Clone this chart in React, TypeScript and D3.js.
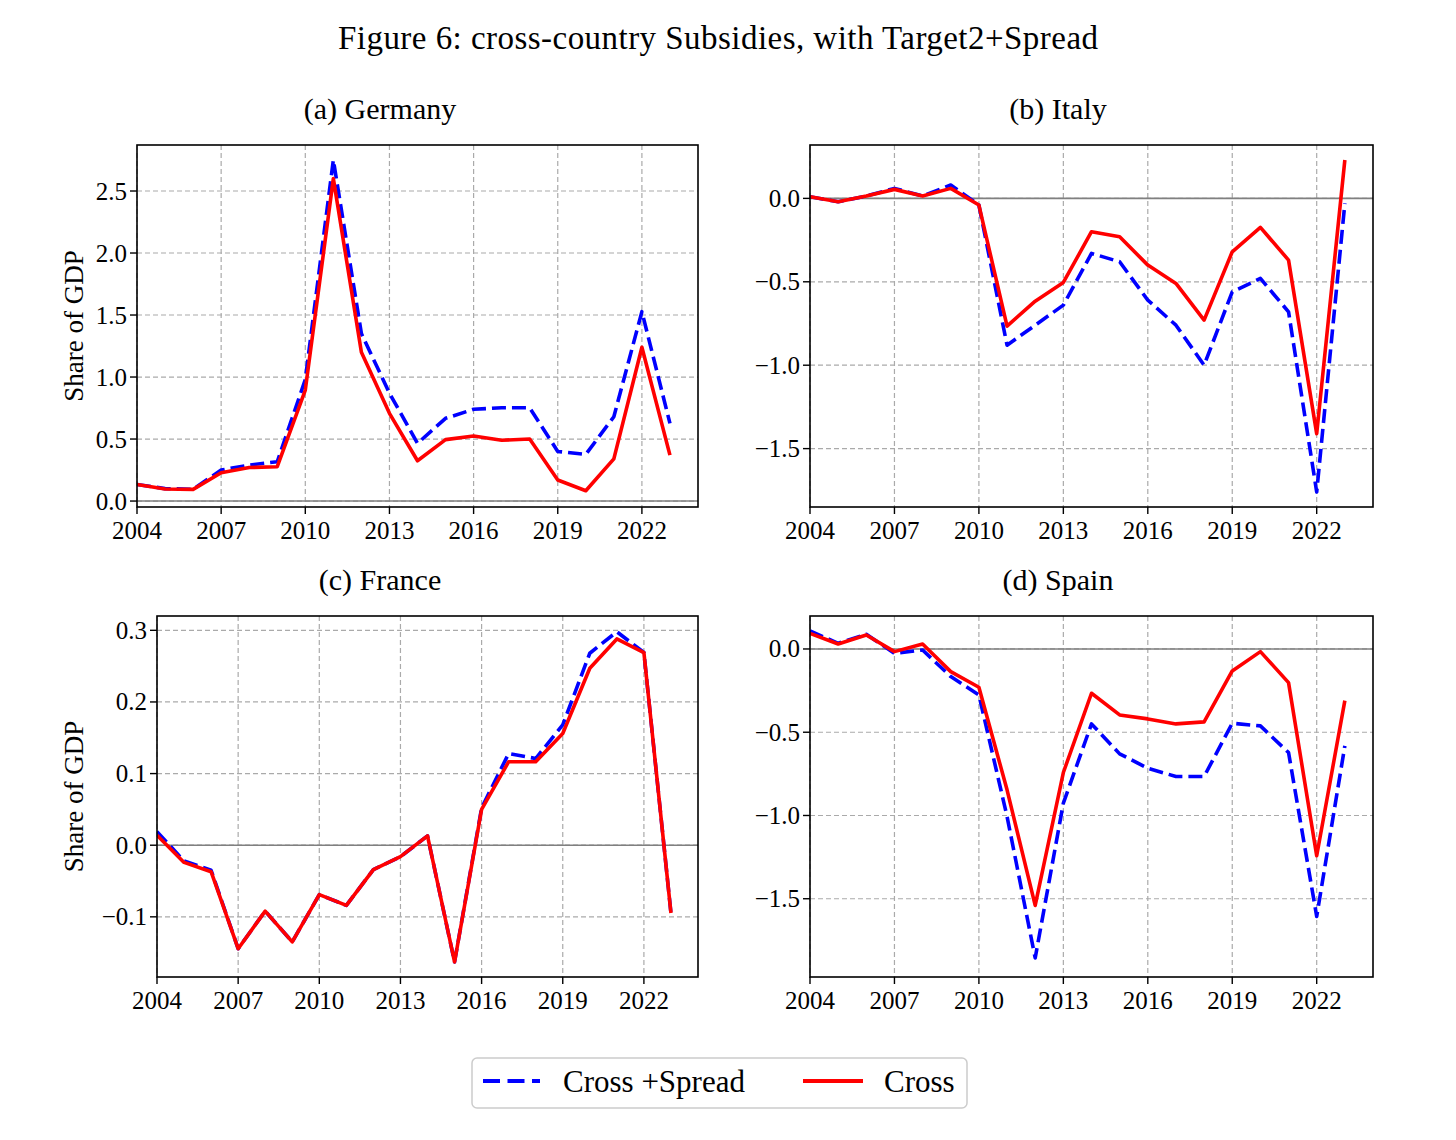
import * as d3 from 'd3';

// years on the x axis (one value per year)
const years = [2004, 2005, 2006, 2007, 2008, 2009, 2010, 2011, 2012, 2013, 2014, 2015, 2016, 2017, 2018, 2019, 2020, 2021, 2022, 2023];
const xTicks = [2004, 2007, 2010, 2013, 2016, 2019, 2022];

// Germany
const germanySpread = [0.134, 0.1, 0.095, 0.25, 0.29, 0.317, 0.98, 2.75, 1.35, 0.87, 0.465, 0.667, 0.74, 0.752, 0.752, 0.4, 0.376, 0.68, 1.527, 0.626];
const germanyCross = [0.134, 0.097, 0.094, 0.228, 0.27, 0.277, 0.895, 2.6, 1.2, 0.707, 0.325, 0.495, 0.524, 0.49, 0.5, 0.17, 0.083, 0.34, 1.24, 0.37];
const germanyTicks = [0, 0.5, 1, 1.5, 2, 2.5];

// Italy
const italySpread = [0.01, -0.02, 0.014, 0.06, 0.014, 0.08, -0.04, -0.88, -0.76, -0.64, -0.33, -0.38, -0.61, -0.76, -1.0, -0.56, -0.48, -0.68, -1.76, -0.03];
const italyCross = [0.01, -0.02, 0.014, 0.054, 0.014, 0.06, -0.04, -0.766, -0.616, -0.504, -0.2, -0.23, -0.4, -0.51, -0.73, -0.32, -0.174, -0.37, -1.41, 0.23];
const italyTicks = [0, -0.5, -1, -1.5];

// France
const franceSpread = [0.019, -0.022, -0.035, -0.1445, -0.092, -0.135, -0.069, -0.084, -0.034, -0.016, 0.013, -0.163, 0.052, 0.128, 0.121, 0.168, 0.268, 0.298, 0.269, -0.0946];
const franceCross = [0.014, -0.024, -0.037, -0.1445, -0.092, -0.135, -0.069, -0.084, -0.034, -0.016, 0.013, -0.163, 0.05, 0.1166, 0.1166, 0.156, 0.247, 0.288, 0.269, -0.0946];
const franceTicks = [0.3, 0.2, 0.1, 0, -0.1];

// Spain
const spainSpread = [0.108, 0.034, 0.088, -0.026, -0.006, -0.166, -0.276, -1.006, -1.856, -0.926, -0.45, -0.63, -0.716, -0.766, -0.766, -0.446, -0.462, -0.622, -1.606, -0.582];
const spainCross = [0.094, 0.03, 0.084, -0.016, 0.03, -0.136, -0.23, -0.846, -1.54, -0.742, -0.266, -0.396, -0.42, -0.45, -0.438, -0.132, -0.016, -0.202, -1.242, -0.31];
const spainTicks = [0, -0.5, -1, -1.5];

const FONT = '"Liberation Serif", "DejaVu Serif", serif';
const BLUE = '#0000ff';
const RED = '#ff0000';
const fmt = d3.format('.1f');

interface PanelProps {
  title: string;
  titleX: number;
  left: number;
  right: number;
  top: number;
  bottom: number;
  yDomain: [number, number];
  yTicks: number[];
  spread: number[];
  cross: number[];
  ylabel?: boolean;
}

function Panel({ title, titleX, left, right, top, bottom, yDomain, yTicks, spread, cross, ylabel }: PanelProps) {
  const x = d3.scaleLinear().domain([2004, 2024]).range([left, right]);
  const y = d3.scaleLinear().domain(yDomain).range([bottom, top]);
  const line = d3.line<number>()
    .x((_, i) => x(years[i]))
    .y(d => y(d));
  const clipId = `clip-${left}-${top}`;

  return (
    <g>
      <defs>
        <clipPath id={clipId}>
          <rect x={left} y={top} width={right - left} height={bottom - top} />
        </clipPath>
      </defs>

      {/* grid */}
      {xTicks.map(t => (
        <line key={'gx' + t} x1={x(t)} x2={x(t)} y1={top} y2={bottom}
          stroke="#aaaaaa" strokeWidth={1.2} strokeDasharray="5 3" />
      ))}
      {yTicks.map(t => (
        <line key={'gy' + t} x1={left} x2={right} y1={y(t)} y2={y(t)}
          stroke="#aaaaaa" strokeWidth={1.2} strokeDasharray="5 3" />
      ))}

      {/* zero line */}
      <line x1={left} x2={right} y1={y(0)} y2={y(0)} stroke="#808080" strokeWidth={1.6} />

      <g clipPath={`url(#${clipId})`}>
        <path d={line(spread) || ''} fill="none" stroke={BLUE} strokeWidth={3.6}
          strokeDasharray="14 6" strokeLinejoin="round" />
        <path d={line(cross) || ''} fill="none" stroke={RED} strokeWidth={3.6}
          strokeLinejoin="round" />
      </g>

      {/* frame */}
      <rect x={left} y={top} width={right - left} height={bottom - top}
        fill="none" stroke="#000" strokeWidth={1.6} />

      {/* x ticks */}
      {xTicks.map(t => (
        <g key={'tx' + t}>
          <line x1={x(t)} x2={x(t)} y1={bottom} y2={bottom + 7} stroke="#000" strokeWidth={1.4} />
          <text x={x(t)} y={bottom + 32} textAnchor="middle" fontSize={25} fontFamily={FONT}>{t}</text>
        </g>
      ))}

      {/* y ticks */}
      {yTicks.map(t => (
        <g key={'ty' + t}>
          <line x1={left - 7} x2={left} y1={y(t)} y2={y(t)} stroke="#000" strokeWidth={1.4} />
          <text x={left - 10} y={y(t) + 8.5} textAnchor="end" fontSize={25} fontFamily={FONT}>{fmt(t)}</text>
        </g>
      ))}

      <text x={titleX} y={top - 26} textAnchor="middle" fontSize={30} fontFamily={FONT}>{title}</text>

      {ylabel && (
        <text transform={`translate(83,${(top + bottom) / 2}) rotate(-90)`} textAnchor="middle"
          fontSize={27} fontFamily={FONT}>Share of GDP</text>
      )}
    </g>
  );
}

export default function App() {
  return (
    <div style={{ position: 'absolute', left: 0, top: 0 }}>
      <svg width={1456} height={1140} style={{ display: 'block', background: '#fff' }}>
        <text x={718} y={49} textAnchor="middle" fontSize={33} fontFamily={FONT}
          textLength={760}>
          Figure 6: cross-country Subsidies, with Target2+Spread
        </text>

        <Panel title="(a) Germany" titleX={380} left={137} right={698} top={145} bottom={507}
          yDomain={[-0.048, 2.871]} yTicks={germanyTicks} spread={germanySpread} cross={germanyCross} ylabel />
        <Panel title="(b) Italy" titleX={1058} left={810} right={1373} top={145} bottom={507}
          yDomain={[-1.85, 0.32]} yTicks={italyTicks} spread={italySpread} cross={italyCross} />
        <Panel title="(c) France" titleX={380} left={157} right={698} top={616} bottom={977}
          yDomain={[-0.184, 0.32]} yTicks={franceTicks} spread={franceSpread} cross={franceCross} ylabel />
        <Panel title="(d) Spain" titleX={1058} left={810} right={1373} top={616} bottom={977}
          yDomain={[-1.97, 0.198]} yTicks={spainTicks} spread={spainSpread} cross={spainCross} />

        {/* legend */}
        <rect x={472} y={1058} width={495} height={50} rx={5} fill="#fff" stroke="#cccccc" strokeWidth={1.5} />
        <line x1={483} x2={540} y1={1081} y2={1081} stroke={BLUE} strokeWidth={4} strokeDasharray="17 7.5" />
        <text x={563} y={1092} fontSize={31} fontFamily={FONT}>Cross +Spread</text>
        <line x1={803} x2={863} y1={1081} y2={1081} stroke={RED} strokeWidth={4} />
        <text x={884} y={1092} fontSize={31} fontFamily={FONT}>Cross</text>
      </svg>
    </div>
  );
}
